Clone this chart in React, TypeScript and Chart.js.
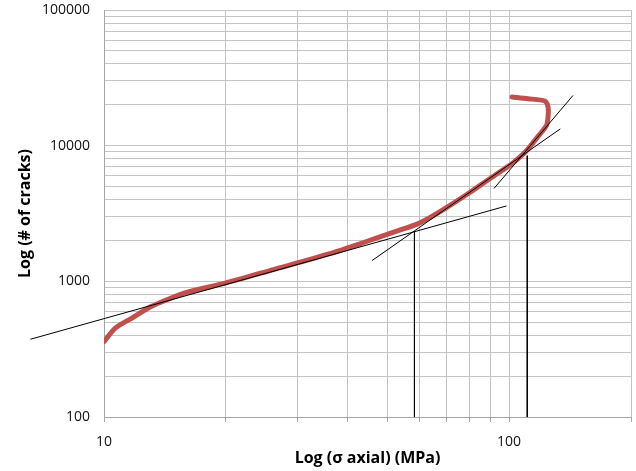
import React, { useEffect, useRef } from "react";
import { Chart, registerables } from "chart.js";

Chart.register(...registerables);

// Red measured curve: axial stress (MPa) vs number of cracks
const stressMPa = [10.0, 10.66, 11.83, 13.0, 14.3, 16.0, 20.0, 26.2, 36.1, 43.6, 52.8, 59.1, 63.7, 70.7, 80.0, 89.6, 95.8, 101.4, 107.3, 111.4, 115.7, 120.2, 123.7, 124.8, 124.8, 122.5, 111.4, 101.7];
const crackCount = [359, 452, 545, 646, 732, 829, 973, 1221, 1600, 1925, 2344, 2630, 2949, 3556, 4519, 5700, 6528, 7318, 8433, 9454, 10890, 12570, 14060, 16230, 19250, 21330, 22180, 22830];

// Tangent lines (endpoints)
const lineAX = [6.58, 98.5];
const lineAY = [374, 3594];
const lineBX = [45.9, 133.8];
const lineBY = [1423, 13295];
const lineCX = [91.8, 143.8];
const lineCY = [4835, 23440];
// Vertical marker lines
const markerX = [58.4, 110.9];
const markerTopY = [2344, 8433];
const markerBottomY = 100;

// Axis ticks
const xTicks = [10, 20, 30, 40, 50, 60, 70, 80, 90, 100, 200];
const xLabels = [10, 100];
const yTicks = [100, 200, 300, 400, 500, 600, 700, 800, 900, 1000, 2000, 3000, 4000, 5000, 6000, 7000, 8000, 9000, 10000, 20000, 30000, 40000, 50000, 60000, 70000, 80000, 90000, 100000];
const yLabels = [100, 1000, 10000, 100000];

const pts = (xs: number[], ys: number[]) => xs.map((x, i) => ({ x, y: ys[i] }));

export default function App() {
  const ref = useRef<HTMLCanvasElement | null>(null);

  useEffect(() => {
    if (!ref.current) return;
    const font = "'Open Sans', 'Liberation Sans', sans-serif";
    const blackLine = (data: { x: number; y: number }[], clip = true) => ({
      data,
      borderColor: "#000000",
      borderWidth: 1,
      pointRadius: 0,
      showLine: true,
      tension: 0,
      order: 0,
      clip: clip ? undefined : false,
    });
    const chart = new Chart(ref.current, {
      type: "scatter",
      data: {
        datasets: [
          blackLine(pts(lineAX, lineAY), false) as any,
          blackLine(pts(lineBX, lineBY)) as any,
          blackLine(pts(lineCX, lineCY)) as any,
          blackLine([
            { x: markerX[0], y: markerTopY[0] },
            { x: markerX[0], y: markerBottomY },
          ]) as any,
          blackLine([
            { x: markerX[1], y: markerTopY[1] },
            { x: markerX[1], y: markerBottomY },
          ]) as any,
          {
            data: pts(stressMPa, crackCount),
            borderColor: "#C0504D",
            borderWidth: 5,
            pointRadius: 0,
            showLine: true,
            tension: 0.25,
            borderCapStyle: "round",
            borderJoinStyle: "round",
            order: 1,
          } as any,
        ],
      },
      options: {
        animation: false,
        responsive: false,
        layout: { padding: { top: 10, right: 5, left: 0, bottom: 0 } },
        plugins: { legend: { display: false }, tooltip: { enabled: false } },
        scales: {
          x: {
            type: "logarithmic",
            min: 10,
            max: 200,
            afterBuildTicks: (s: any) => {
              s.ticks = xTicks.map((v) => ({ value: v, major: xLabels.includes(v) }));
            },
            afterFit: (s: any) => {
              s.height = 54;
              s.paddingLeft = 0;
              s.paddingRight = 0;
            },
            grid: { color: "#c4c4c4", lineWidth: 1, drawTicks: true, tickLength: 5, tickColor: "#a6a6a6" },
            border: { color: "#a6a6a6", width: 1 },
            ticks: {
              autoSkip: false,
              maxRotation: 0,
              padding: 12,
              color: "#111111",
              font: { family: font, size: 14 },
              callback: (v: any) => (xLabels.includes(Number(v)) ? String(v) : ""),
            },
            title: {
              display: true,
              text: "Log (σ axial) (MPa)",
              color: "#000000",
              font: { family: font, size: 16, weight: "bold" },
              padding: { top: 0, bottom: 3 },
            },
          },
          y: {
            type: "logarithmic",
            min: 100,
            max: 100000,
            afterBuildTicks: (s: any) => {
              s.ticks = yTicks.map((v) => ({ value: v, major: yLabels.includes(v) }));
            },
            afterFit: (s: any) => {
              s.width = 104;
              s.paddingTop = 0;
              s.paddingBottom = 0;
            },
            grid: { color: "#c4c4c4", lineWidth: 1, drawTicks: false },
            border: { color: "#a6a6a6", width: 1 },
            ticks: {
              autoSkip: false,
              padding: 14,
              color: "#111111",
              font: { family: font, size: 14 },
              callback: (v: any) => (yLabels.includes(Number(v)) ? String(v) : ""),
            },
            title: {
              display: true,
              text: "Log (# of cracks)",
              color: "#000000",
              font: { family: font, size: 16, weight: "bold" },
              padding: { top: 16, bottom: 0 },
            },
          },
        },
      },
    });
    return () => chart.destroy();
  }, []);

  return (
    <div style={{ position: "absolute", left: 0, top: 0, width: 636, height: 471, background: "#ffffff" }}>
      <canvas ref={ref} width={636} height={471} style={{ display: "block", width: 636, height: 471 }} />
    </div>
  );
}
